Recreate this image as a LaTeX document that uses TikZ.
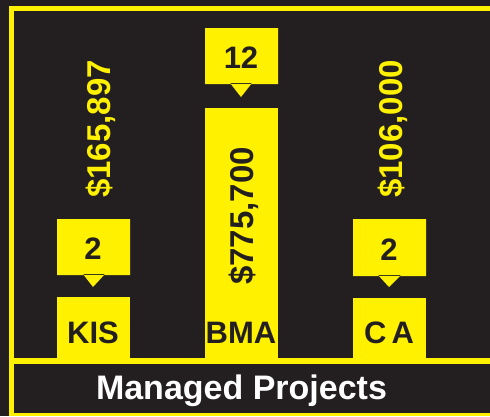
\documentclass[tikz,border=0pt]{standalone}
\usepackage{fontspec}
\setmainfont{Liberation Sans}
\definecolor{dk}{HTML}{231F20}
\definecolor{yel}{HTML}{FFF100}
\begin{document}
\begin{tikzpicture}[x=1pt,y=-1pt,
  lbl/.style={font=\bfseries\fontsize{31}{31}\selectfont, text=dk, inner sep=0pt, anchor=base},
  val/.style={font=\bfseries\fontsize{33}{33}\selectfont, inner sep=0pt, anchor=base, rotate=90},
  ttl/.style={font=\bfseries\fontsize{34}{34}\selectfont, text=white, inner sep=0pt, anchor=base}]
\useasboundingbox (0,0) rectangle (490,416);
% background and frame
\fill[dk] (0,0) rectangle (490,416);
\fill[yel] (8.5,6) rectangle (490,416);
\fill[dk] (14,11) rectangle (490,358);
\fill[dk] (14,364) rectangle (490,413);
% bars
\fill[yel] (57,297) rectangle (130,358.5);
\fill[yel] (205,108) rectangle (278,358.5);
\fill[yel] (353,298) rectangle (426,358.5);
% callouts
\fill[yel] (57,219) rectangle (130,275) (83,274) -- (105,274) -- (93,287) -- cycle;
\fill[yel] (205,28) rectangle (278,84) (230,83) -- (252,83) -- (241,97) -- cycle;
\fill[yel] (353,219) rectangle (426,276) (378,275) -- (401,275) -- (389,287) -- cycle;
% callout numbers
\node[lbl] (nkis) at (93,259) {2};
\node[lbl] (nbma) at (241,68) {12};
\node[lbl] (nca) at (389,260) {2};
% bar names
\node[lbl] (kis) at (93,343) {KIS};
\node[lbl] (bma) at (241,343) {BMA};
\node[lbl] (ca) at (389,343) {C\,A};
% values
\node[val, text=yel] (vkis) at (110,129) {\$165,897};
\node[val, text=dk] (vbma) at (253,216) {\$775,700};
\node[val, text=yel] (vca) at (402,129) {\$106,000};
% title
\node[ttl] (title) at (241.5,399) {Managed Projects};
\end{tikzpicture}
\end{document}
